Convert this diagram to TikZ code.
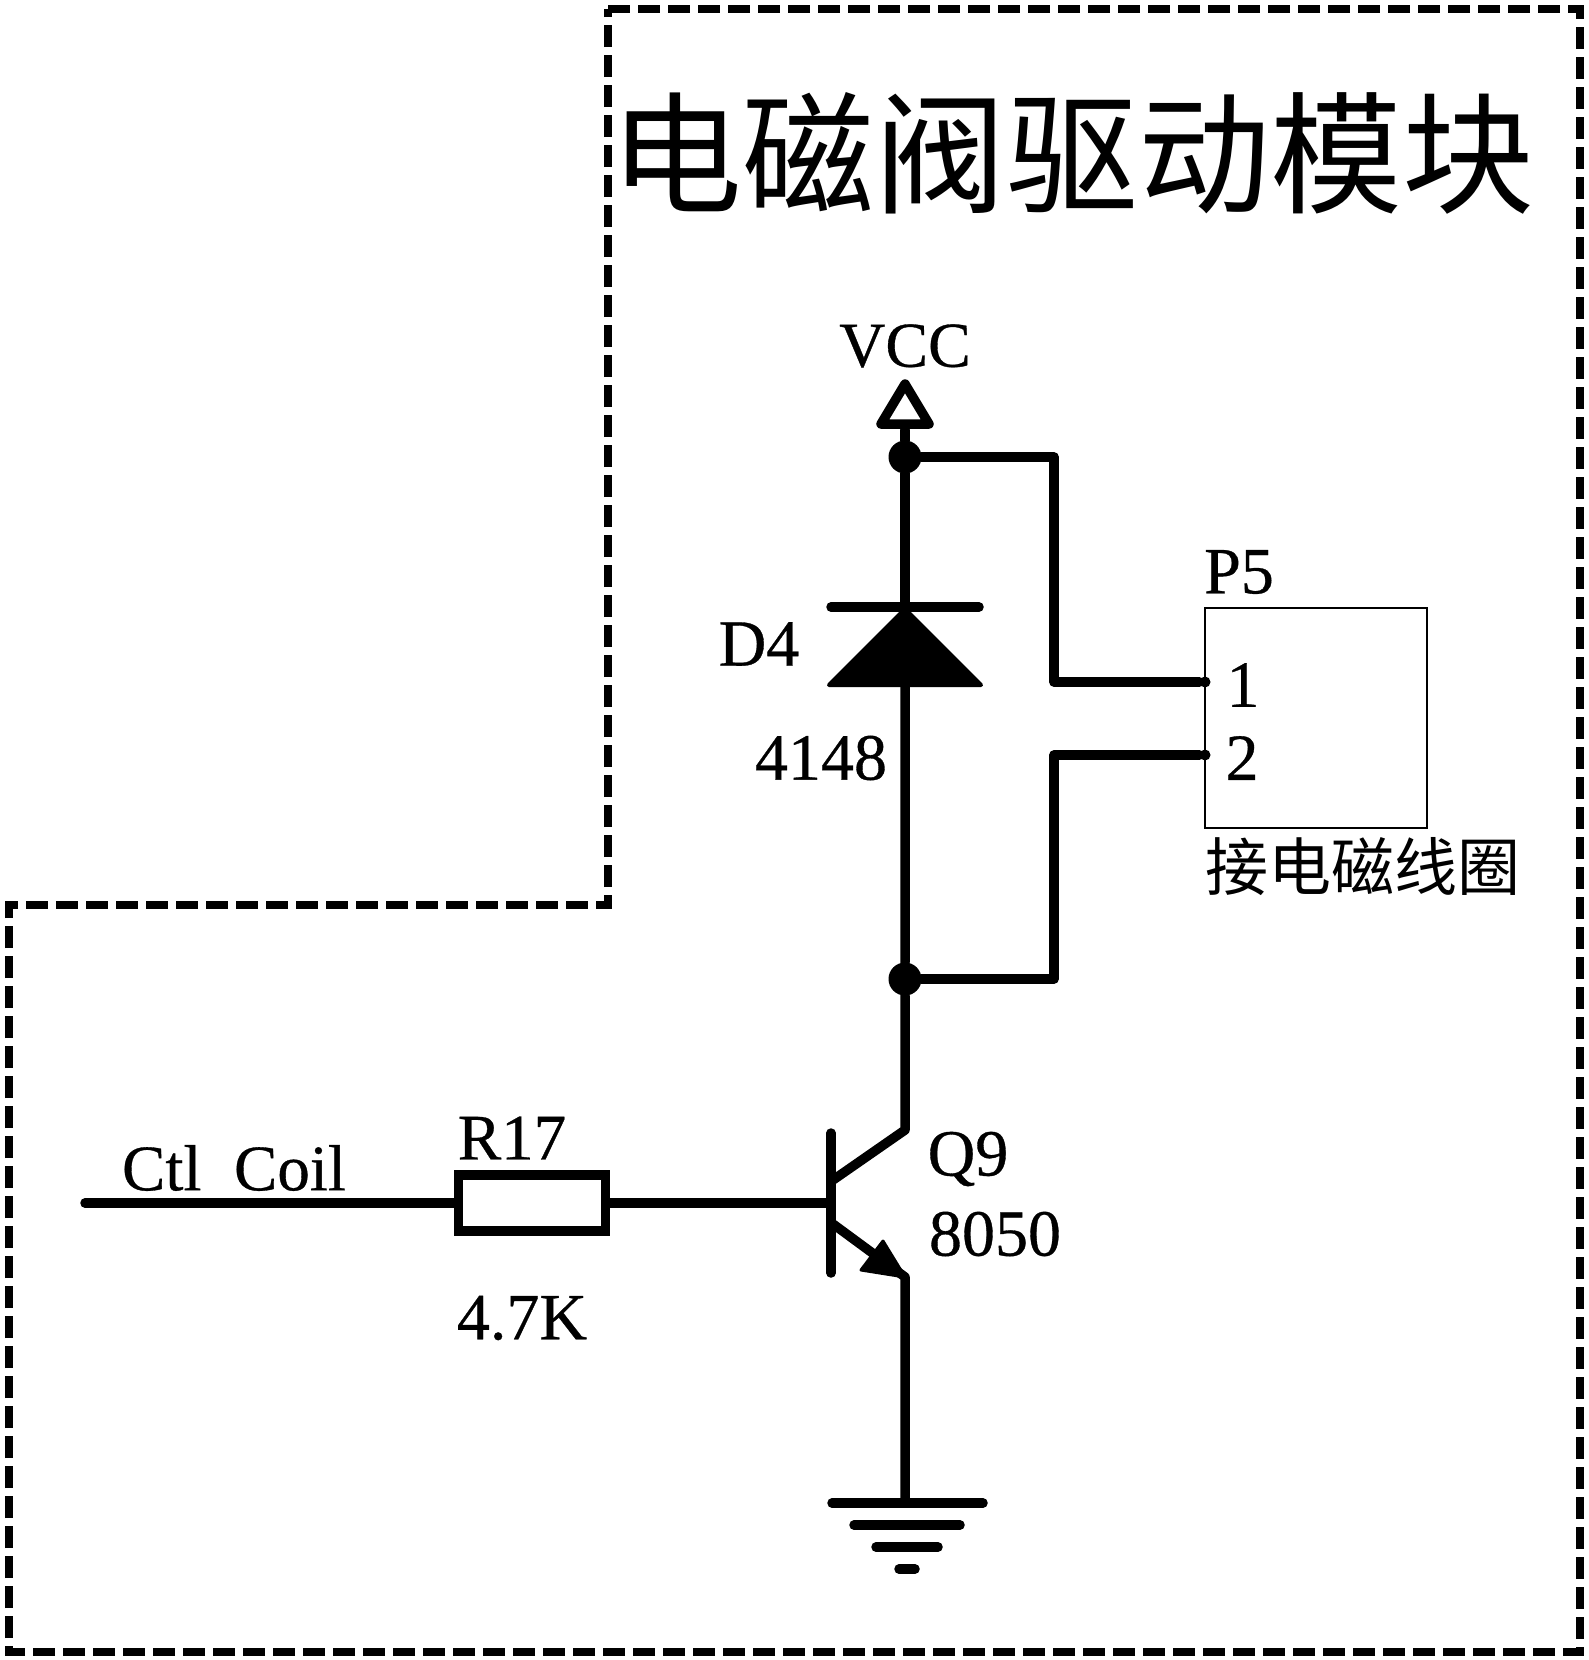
\documentclass[tikz,border=0pt]{standalone}
\usepackage{fontspec}
\setmainfont[FakeBold=0.5]{Liberation Serif}
\newfontfamily\cjk{Noto Sans CJK SC}
\newcommand{\fs}[1]{\fontsize{#1}{#1}\selectfont}
\tikzset{
  wire/.style={line width=9.5pt,line join=round,line cap=round},
  thinbox/.style={line width=2pt},
  frameline/.style={line width=8pt,dash pattern=on 22pt off 8pt,line join=miter},
  lbl/.style={inner sep=0pt,font=\fs{66}},
  junction/.style={circle,fill=black,inner sep=0pt,minimum size=33pt},
  pindot/.style={circle,fill=black,inner sep=0pt,minimum size=11pt}
}
\begin{document}
\begin{tikzpicture}[x=1pt,y=-1pt]
\useasboundingbox (0,0) rectangle (1588,1660);
% frame
\draw[frameline] (608,9) -- (1580,9) -- (1580,1652) -- (9,1652) -- (9,905) -- (608,905) -- cycle;
\node[inner sep=0pt,font=\fs{132}\cjk] (title) at (1072,153) {电磁阀驱动模块};
% anchors
\coordinate (vccp) at (905,430);
\node[junction] (jtop) at (905,457) {};
\node[junction] (jbot) at (905,979) {};
\coordinate (dk) at (905,607);
\coordinate (da) at (905,683);
\coordinate (qc) at (905,1130);
\coordinate (qcb) at (833,1180);
\coordinate (qe) at (905,1277);
\coordinate (qeb) at (833,1224);
\coordinate (qb) at (831,1203);
\coordinate (qbt) at (831,1133);
\coordinate (qbb) at (831,1273);
\coordinate (gnd) at (905,1503);
\coordinate (ctl) at (85,1203);
\coordinate (turn1) at (1054,457);
\coordinate (turn2) at (1054,682);
\coordinate (turn3) at (1054,755);
\coordinate (turn4) at (1054,979);
% P5
\node[draw,thinbox,minimum width=222pt,minimum height=220pt,inner sep=0pt] (p5) at (1316,718) {};
\node[pindot] (pin1) at (1205,682) {};
\node[pindot] (pin2) at (1205,755) {};
\node[lbl] (p5l) at (1239,572) {P5};
\node[lbl] (n1) at (1243,685) {1};
\node[lbl] (n2) at (1242,758) {2};
\node[inner sep=0pt,font=\fs{63}\cjk] (coil) at (1363,867) {接电磁线圈};
% R17
\node[draw,line width=9.5pt,fill=white,minimum width=147pt,minimum height=56pt,inner sep=0pt] (r17) at (532,1203) {};
% wires
\draw[wire] (vccp) -- (jtop) -- (dk);
\draw[wire] (da) -- (jbot) -- (qc) -- (qcb);
\draw[wire] (jtop) -- (turn1) -- (turn2) -- (pin1);
\draw[wire] (pin2) -- (turn3) -- (turn4) -- (jbot);
\draw[wire] (ctl) -- (r17);
\draw[wire] (r17) -- (qb);
\draw[wire] (qbt) -- (qbb);
\draw[wire] (qeb) -- (qe) -- (gnd);
% VCC
\draw[wire,fill=white] (905,384) -- (929,424) -- (881,424) -- cycle;
\node[lbl,font=\fs{64}] (vcc) at (905,346) {VCC};
% diode
\draw[wire] (831,607) -- (979,607);
\fill[draw=black,line width=4pt,line join=round] (829,685) -- (905,609) -- (981,685) -- cycle;
% emitter arrow
\fill[draw=black,line width=3pt,line join=round] (905,1277) -- (883,1241) -- (861,1270) -- cycle;
% ground
\draw[wire] (832,1503) -- (983,1503);
\draw[wire] (854,1525) -- (960,1525);
\draw[wire] (876,1547) -- (938,1547);
\draw[wire] (899,1569) -- (915,1569);
% labels
\node[lbl] (d4) at (759,644) {D4};
\node[lbl] (v4148) at (821,758) {4148};
\node[lbl] (q9) at (968,1159) {Q9};
\node[lbl] (v8050) at (995,1234) {8050};
\node[lbl,font=\fs{65}] (r17l) at (512,1138) {R17};
\node[lbl] (r17v) at (522,1318) {4.7K};
\node[lbl,font=\fs{65}] (ctll) at (234,1168) {Ctl\ \ Coil};
\end{tikzpicture}
\end{document}
